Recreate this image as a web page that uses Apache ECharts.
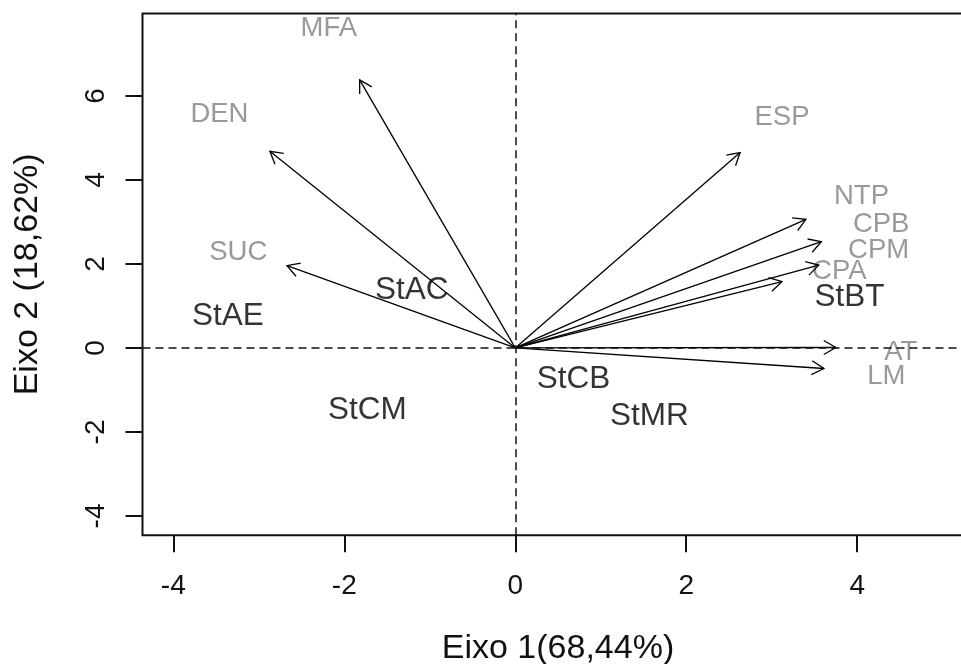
<!DOCTYPE html>
<html><head><meta charset="utf-8">
<script src="https://cdn.jsdelivr.net/npm/echarts@6/dist/echarts.min.js"></script>
<style>html,body{margin:0;padding:0;background:#fff}#c{width:961px;height:664px}</style>
</head><body><div id="c"></div>
<script>
const xTicks = [-4, -2, 0, 2, 4];
const yTicks = [-4, -2, 0, 2, 4, 6];
const xTitle = 'Eixo 1(68,44%)';
const yTitle = 'Eixo 2 (18,62%)';
const siteNames = ['StAE', 'StAC', 'StCM', 'StCB', 'StMR', 'StBT'];
const siteX = [-3.36, -1.21, -1.73, 0.68, 1.57, 3.91];
const siteY = [0.76, 1.37, -1.48, -0.75, -1.62, 1.20];
const varNames = ['MFA', 'DEN', 'SUC', 'ESP', 'NTP', 'CPB', 'CPM', 'CPA', 'AT', 'LM'];
const arrowX = [-1.82, -2.87, -2.67, 2.63, 3.40, 3.58, 3.55, 3.12, 3.75, 3.61];
const arrowY = [6.38, 4.68, 1.96, 4.65, 3.06, 2.53, 1.97, 1.58, 0.01, -0.49];
const labelX = [-2.18, -3.46, -3.24, 3.12, 4.05, 4.28, 4.25, 3.79, 4.51, 4.34];
const labelY = [7.60, 5.55, 2.27, 5.49, 3.60, 2.95, 2.31, 1.82, -0.11, -0.67];

const FONT = '"Liberation Sans", Arial, Helvetica, sans-serif';
const chart = echarts.init(document.getElementById('c'), null, {renderer: 'canvas'});

const siteData = siteNames.map((n, i) => [siteX[i], siteY[i], n]);
const varData = varNames.map((n, i) => [labelX[i], labelY[i], n]);
const arrowData = varNames.map((n, i) => [arrowX[i], arrowY[i], n]);

chart.setOption({
  animation: false,
  backgroundColor: '#fff',
  grid: {
    left: 142.5, top: 13.5, width: 831, height: 521.8,
    show: true, borderColor: '#111', borderWidth: 2, backgroundColor: 'transparent',
    containLabel: false, outerBoundsMode: 'none'
  },
  xAxis: {
    type: 'value', min: -4.36, max: 5.36,
    splitLine: {show: false},
    axisLine: {show: false, onZero: false},
    axisTick: {show: true, length: 17, lineStyle: {color: '#111', width: 2}, customValues: xTicks},
    axisLabel: {show: true, customValues: xTicks, fontSize: 28, color: '#111', fontFamily: FONT, margin: 37},
    name: xTitle, nameLocation: 'middle', nameGap: 96,
    nameTextStyle: {fontSize: 34, color: '#111', fontFamily: FONT}
  },
  yAxis: {
    type: 'value', min: -4.46, max: 7.96,
    splitLine: {show: false},
    axisLine: {show: false, onZero: false},
    axisTick: {show: true, length: 17, lineStyle: {color: '#111', width: 2}, customValues: yTicks},
    axisLabel: {show: true, customValues: yTicks, fontSize: 28, color: '#111', fontFamily: FONT, margin: 32, rotate: 90},
    name: yTitle, nameLocation: 'middle', nameGap: 98, nameRotate: 90,
    nameTextStyle: {fontSize: 34, color: '#111', fontFamily: FONT}
  },
  series: [
    {
      type: 'scatter', data: siteData, symbolSize: 0.1, z: 2, silent: true,
      itemStyle: {color: '#000'},
      label: {show: true, position: 'inside', formatter: p => p.data[2], fontSize: 31.5, color: '#000', textBorderWidth: 0, fontFamily: FONT},
      markLine: {
        silent: true, symbol: ['none', 'none'], label: {show: false},
        lineStyle: {type: [8, 5], color: '#111', width: 1.5},
        data: [{xAxis: 0}, {yAxis: 0}]
      }
    },
    {
      type: 'scatter', data: varData, symbolSize: 0.1, z: 2, silent: true,
      itemStyle: {color: '#7f7f7f'},
      label: {show: true, position: 'inside', formatter: p => p.data[2], fontSize: 27.5, color: '#7f7f7f', textBorderWidth: 0, fontFamily: FONT}
    },
    {
      type: 'custom', data: arrowData, z: 3, silent: true,
      renderItem: function (params, api) {
        const o = api.coord([0, 0]);
        const t = api.coord([api.value(0), api.value(1)]);
        const ang = Math.atan2(t[1] - o[1], t[0] - o[0]);
        const L = 14, a = Math.PI / 6;
        const h1 = [t[0] - L * Math.cos(ang - a), t[1] - L * Math.sin(ang - a)];
        const h2 = [t[0] - L * Math.cos(ang + a), t[1] - L * Math.sin(ang + a)];
        return {type: 'group', children: [
          {type: 'line', shape: {x1: o[0], y1: o[1], x2: t[0], y2: t[1]}, style: {stroke: '#000', lineWidth: 1.3}},
          {type: 'polyline', shape: {points: [h1, t, h2]}, style: {stroke: '#000', lineWidth: 1.3, fill: null}}
        ]};
      }
    }
  ]
});
</script></body></html>
